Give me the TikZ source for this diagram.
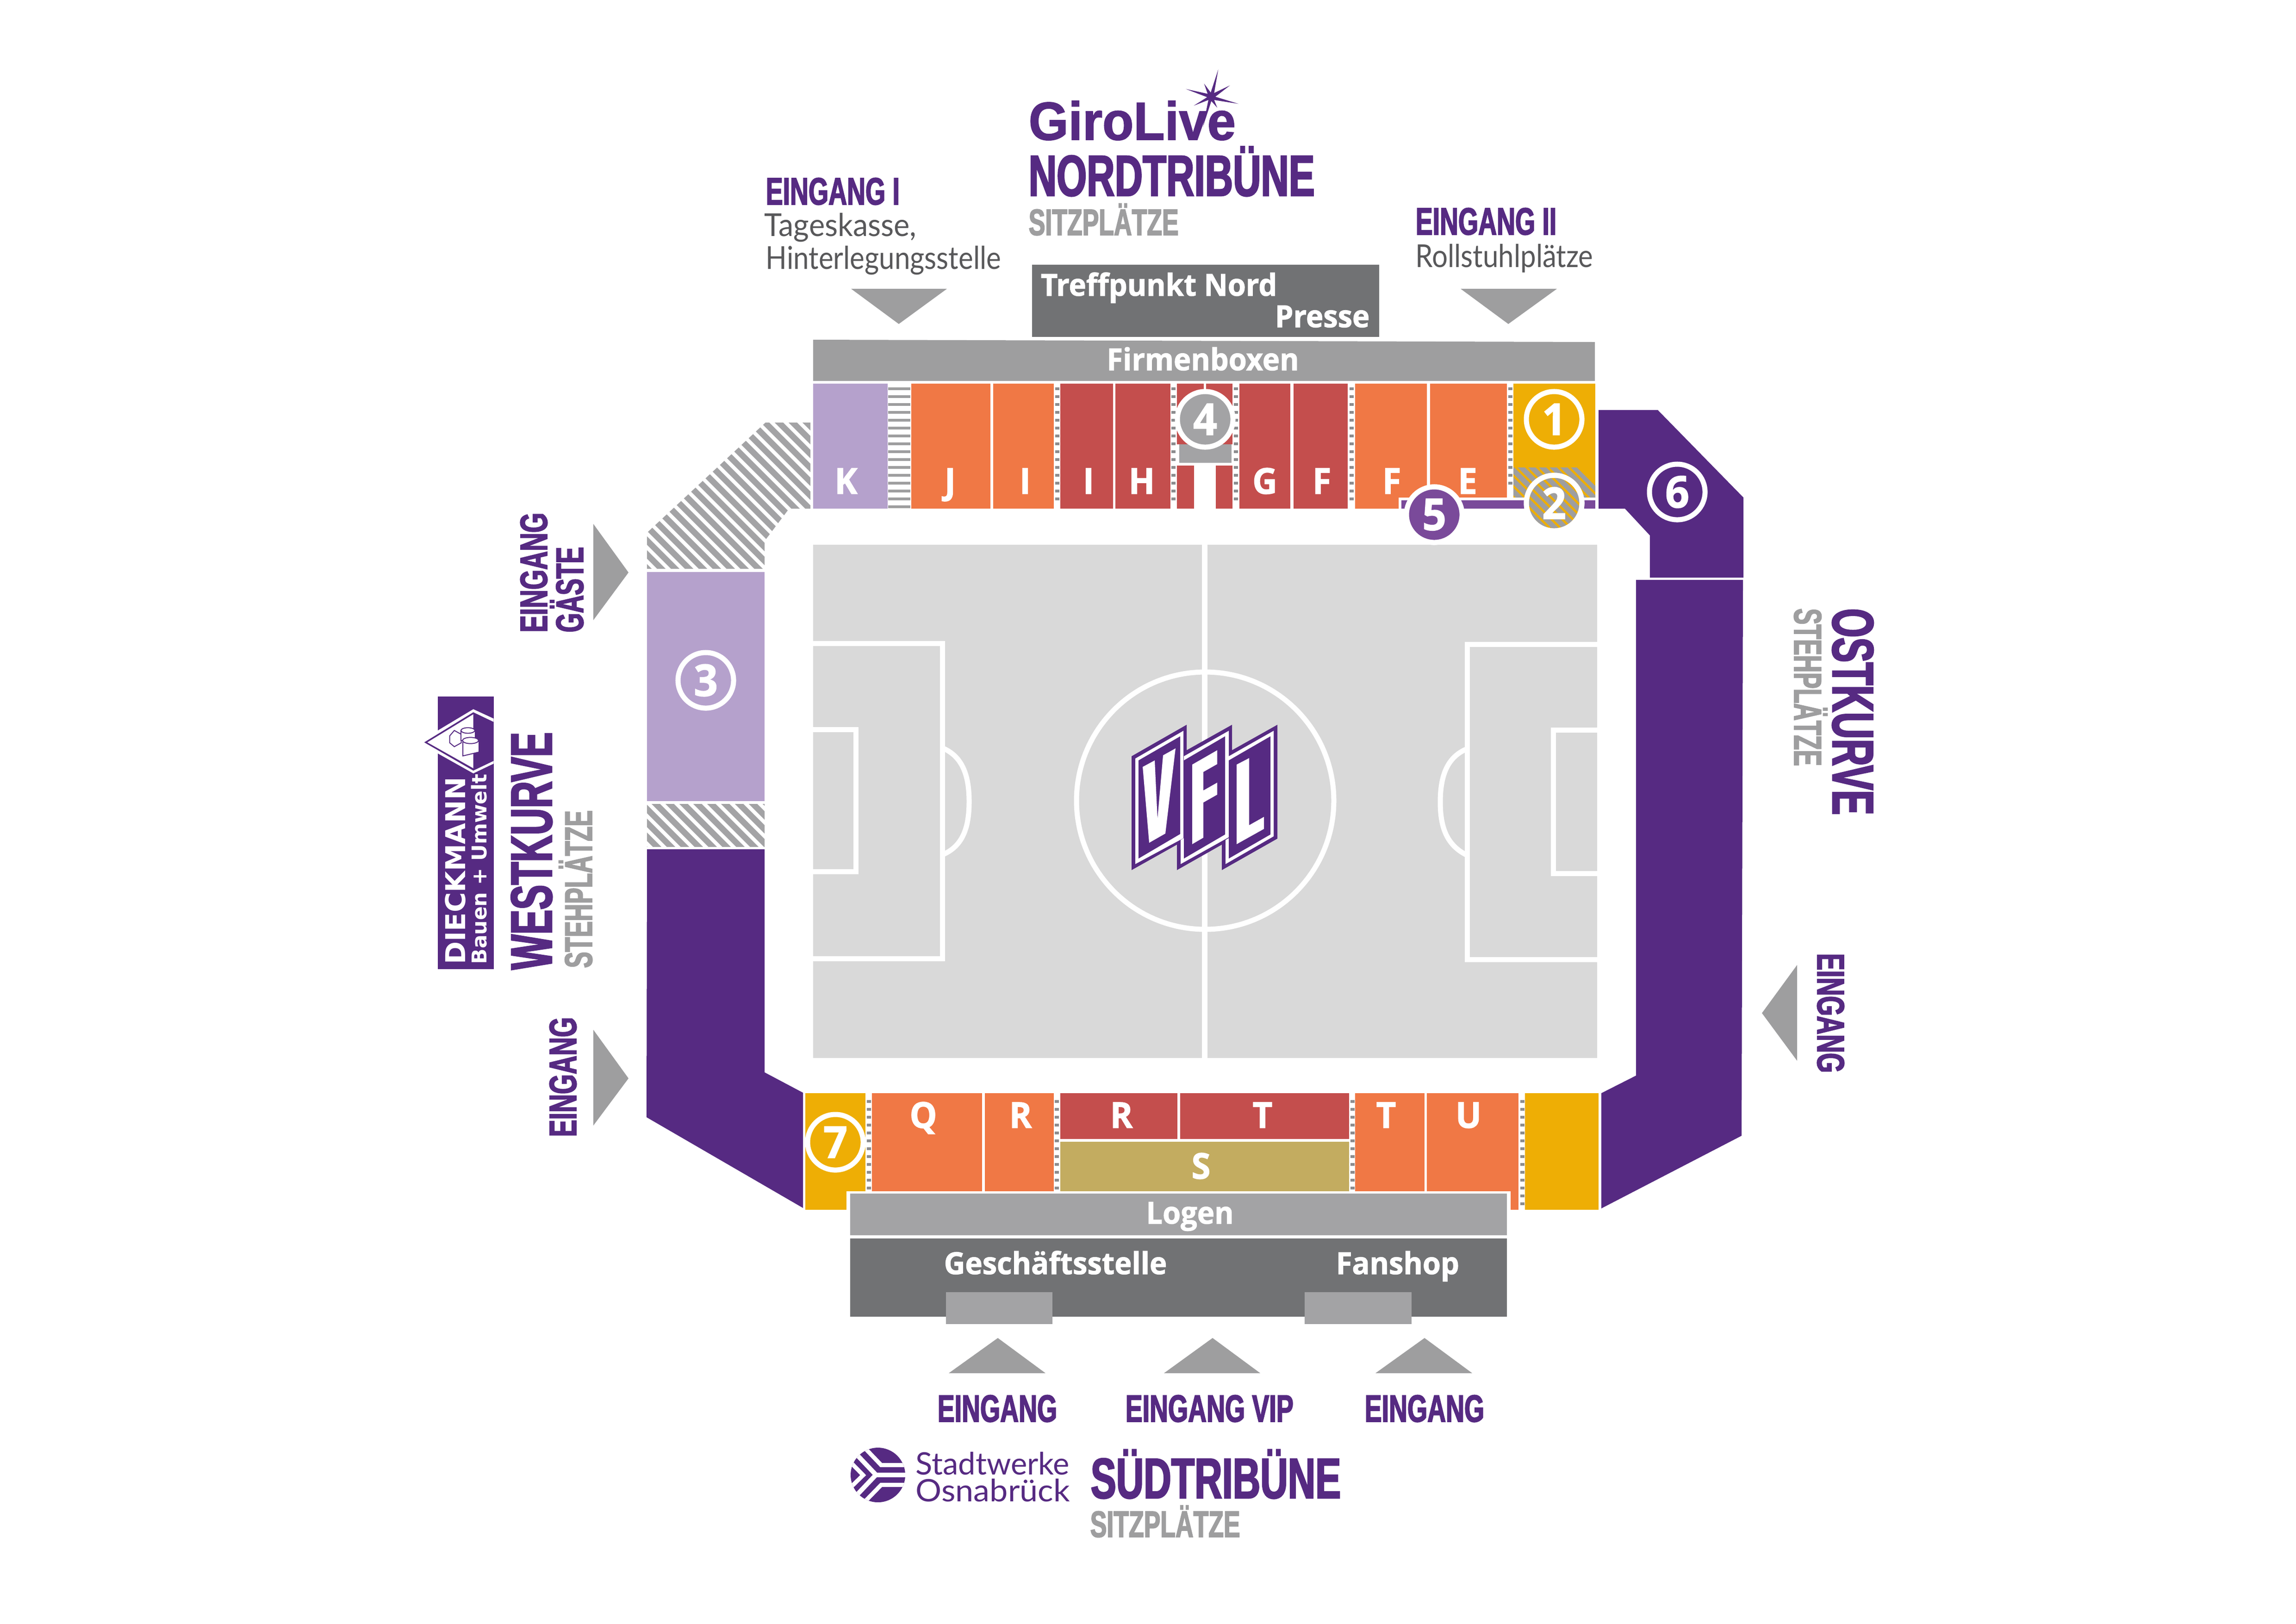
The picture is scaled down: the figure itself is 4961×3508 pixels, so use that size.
\documentclass[tikz,border=0pt]{standalone}
\usepackage{fontspec}
\newfontfamily\headfont[FakeStretch=0.67,BoldFeatures={FakeBold=2.2}]{Liberation Sans}
\newfontfamily\curvefont[FakeStretch=0.64,BoldFeatures={FakeBold=2.2}]{Liberation Sans}
\newfontfamily\curvesubfont[FakeStretch=0.62,BoldFeatures={FakeBold=2.2}]{Liberation Sans}
\newfontfamily\girofont[FakeStretch=0.95,BoldFeatures={FakeBold=1.5}]{Liberation Sans}
\newfontfamily\boxfont[FakeStretch=0.96,BoldFeatures={FakeBold=1.5}]{Open Sans}
\newfontfamily\thinfont[FakeStretch=0.88]{Lato}
\newfontfamily\thinwidefont[FakeStretch=0.95]{Lato}
\newfontfamily\logofont[FakeStretch=1.05]{Lato}
\newfontfamily\wideboldfont{DejaVu Sans}
\setmainfont{Lato}
\definecolor{purpledark}{HTML}{562A82}
\definecolor{purplemid}{HTML}{7A4A9A}
\definecolor{purplepale}{HTML}{B5A1CC}
\definecolor{seatorange}{HTML}{F07845}
\definecolor{seatred}{HTML}{C44E4D}
\definecolor{seatgold}{HTML}{EEAE05}
\definecolor{seatolive}{HTML}{C3AC60}
\definecolor{greyarrow}{HTML}{9E9E9F}
\definecolor{greylogen}{HTML}{A3A3A5}
\definecolor{greydark}{HTML}{717274}
\definecolor{greydot}{HTML}{8C8C8E}
\definecolor{greyfield}{HTML}{D9D9D9}
\definecolor{greytext}{HTML}{58585A}
\tikzset{
  headlab/.style={anchor=base west,inner sep=0,text=purpledark,font=\headfont\bfseries\fontsize{#1}{#1}\selectfont},
  sublab/.style={anchor=base west,inner sep=0,text=greyarrow,font=\headfont\bfseries\fontsize{#1}{#1}\selectfont},
  curvelab/.style={anchor=base west,inner sep=0,text=purpledark,rotate=#1,font=\curvefont\bfseries\fontsize{35.8}{35.8}\selectfont},
  curvesub/.style={anchor=base west,inner sep=0,text=greyarrow,rotate=#1,font=\curvesubfont\bfseries\fontsize{23.8}{23.8}\selectfont},
  thinlab/.style={anchor=base west,inner sep=0,text=greytext,font=\thinfont\fontsize{19.4}{19.4}\selectfont},
  boxlab/.style={anchor=base,inner sep=0,text=white,font=\boxfont\bfseries\fontsize{18.7}{18.7}\selectfont},
  seatlab/.style={anchor=base,inner sep=0,text=white,font=\boxfont\bfseries\fontsize{22}{22}\selectfont},
  numring/.style={circle,draw=white,line width=.11cm,minimum size=1.2cm,inner sep=0,text=white,font=\boxfont\bfseries\fontsize{27}{27}\selectfont},
  pitchline/.style={draw=white,line width=.11cm},
  hatchline/.style={draw=greylogen,line width=.13cm},
  goldhatch/.style={draw=greyarrow,line width=.11cm},
  dotmark/.style={fill=greydot}
}
\begin{document}
\begin{tikzpicture}[x=.01cm,y=-.01cm]
  \useasboundingbox (0,0) rectangle (4961,3508);
  \fill[white] (0,0) rectangle (4961,3508);

  % pitch
  \fill[greyfield] (1757,1177) rectangle (3451,2286);
  \draw[white,line width=.12cm] (2603,1177) -- (2603,2286);
  \draw[pitchline] (2604,1730) circle (278);
  \draw[pitchline] (1757,1390) -- (2036.5,1390) -- (2036.5,2071.5) -- (1757,2071.5);
  \draw[pitchline] (1757,1576.5) -- (1849.5,1576.5) -- (1849.5,1883.5) -- (1757,1883.5);
  \draw[pitchline] (2036,1616) .. controls (2082,1635) and (2094,1680) .. (2094,1732) .. controls (2094,1785) and (2082,1828) .. (2036,1847);
  \draw[pitchline] (3451,1392) -- (3170,1392) -- (3170,2073) -- (3451,2073);
  \draw[pitchline] (3451,1577) -- (3356.5,1577) -- (3356.5,1887.5) -- (3451,1887.5);
  \draw[pitchline] (3170,1618) .. controls (3125,1636) and (3112,1680) .. (3112,1733) .. controls (3112,1786) and (3125,1826) .. (3170,1848);

  % club logo
  \fill[purpledark] (2445,1634) -- (2564,1566) -- (2564,1621) -- (2662,1566) -- (2662,1621) -- (2760,1566)
    -- (2760,1812) -- (2640,1880) -- (2640,1825) -- (2543,1880) -- (2543,1825) -- (2445,1880) -- cycle;
  \fill[white] (2453,1639) -- (2557,1579) -- (2557,1811) -- (2453,1867) -- cycle;
  \fill[white] (2558,1634) -- (2655,1579) -- (2655,1809) -- (2551,1867) -- (2551,1815) -- (2558,1811) -- cycle;
  \fill[white] (2655,1634) -- (2752,1579) -- (2752,1807) -- (2648,1867) -- (2648,1815) -- (2655,1811) -- cycle;
  \fill[purpledark] (2460,1643) -- (2550,1591) -- (2550,1802) -- (2460,1855) -- cycle;
  \fill[purpledark] (2558,1643) -- (2647,1591) -- (2647,1803) -- (2558,1855) -- cycle;
  \fill[purpledark] (2655,1643) -- (2745,1591) -- (2745,1803) -- (2655,1855) -- cycle;
  \fill[white] (2469,1657) -- (2495,1643) -- (2501,1769) -- (2513,1632) -- (2540,1617) -- (2518,1801) -- (2483,1821) -- cycle;
  \fill[white] (2576,1652) -- (2630,1621) -- (2630,1651) -- (2600,1668) -- (2600,1708) -- (2630,1691) -- (2630,1717) -- (2600,1734) -- (2600,1810) -- (2576,1824) -- cycle;
  \fill[white] (2672,1652) -- (2699,1638) -- (2699,1783) -- (2731,1765) -- (2731,1791) -- (2672,1824) -- cycle;

  % north stand
  \fill[greyarrow] (1757,734) -- (3446,739) -- (3446,823) -- (1757,823) -- cycle;
  \fill[greydark] (2230,572) rectangle (2980,728);
  \fill[purplepale] (1757,829) rectangle (1918,1099);
  \foreach \y in {837,854,...,1096}
    \fill[greyarrow] (1919,\y) rectangle (1967,\y+6);
  \fill[seatorange] (1969,829) rectangle (2140,1099);
  \fill[seatorange] (2146,829) rectangle (2277,1099);
  \fill[seatred] (2291,829) rectangle (2405,1099);
  \fill[seatred] (2410,829) rectangle (2529,1099);
  \fill[seatred] (2543,829) rectangle (2601,960);
  \fill[seatred] (2606,829) rectangle (2663,960);
  \fill[seatred] (2543,1006) rectangle (2580,1099);
  \fill[seatred] (2627,1006) rectangle (2663,1099);
  \fill[greylogen] (2548,960) rectangle (2661,1000);
  \fill[seatred] (2678,829) rectangle (2788,1099);
  \fill[seatred] (2795,829) rectangle (2912,1099);
  \fill[seatorange] (2928,829) -- (3083,829) -- (3083,1075) -- (3022,1075) -- (3022,1099) -- (2928,1099) -- cycle;
  \fill[seatorange] (3090,829) rectangle (3256,1075);
  \fill[seatgold] (3270,829) rectangle (3447,1075);
  \foreach \x in {2284,2535,2670,2920}
    \foreach \y in {837,854,...,1090}
      \fill[dotmark] (\x-4.5,\y) rectangle (\x+4.5,\y+6);
  \foreach \y in {837,854,...,1050}
    \fill[dotmark] (3258.5,\y) rectangle (3267.5,\y+6);
  \begin{scope}
    \clip (3270,1010) -- (3407,1010) -- (3447,1050) -- (3447,1075) -- (3270,1075) -- cycle;
    \foreach \s in {3070,3093,...,3450}
      \draw[goldhatch] (\s,1000) -- ++(100,100);
  \end{scope}
  \fill[purplemid] (3028,1081) rectangle (3447,1099);
  \fill[white] (3099,1112) circle (65.5);
  \fill[white] (3358,1087) circle (65.5);
  \begin{scope}
    \clip (3358,1087) circle (54.5);
    \fill[seatgold] (3290,1020) rectangle (3430,1150);
    \foreach \s in {3170,3193,...,3450}
      \draw[goldhatch] (\s,1020) -- ++(130,130);
  \end{scope}

  \node[boxlab] (firmen) at (2599,800) {Firmenboxen};
  \node[boxlab,anchor=base west] (treff) at (2248,639) {Treffpunkt Nord};
  \node[boxlab,anchor=base east] (presse) at (2960,707) {Presse};
  \node[seatlab] (seatK) at (1828,1067) {K};
  \node[seatlab] (seatJ) at (2053,1067) {J};
  \node[seatlab] (seatIa) at (2215,1067) {I};
  \node[seatlab] (seatIb) at (2352,1067) {I};
  \node[seatlab] (seatH) at (2467,1067) {H};
  \node[seatlab] (seatG) at (2733,1067) {G};
  \node[seatlab] (seatFa) at (2856,1067) {F};
  \node[seatlab] (seatFb) at (3007,1067) {F};
  \node[seatlab] (seatE) at (3171,1067) {E};
  \node[numring] (num1) at (3358,906) {1};
  \node[numring] (num2) at (3358,1087) {2};
  \node[numring,fill=greylogen] (num4) at (2604,906) {4};
  \node[numring,fill=purplemid] (num5) at (3099,1112) {5};

  % north labels
  \node[headlab=23.5] (ein1) at (1654,442) {EINGANG I};
  \node[thinlab,font=\thinwidefont\fontsize{19.4}{19.4}\selectfont] (tages) at (1651,510) {Tageskasse,};
  \node[thinlab] (hinter) at (1654,581) {Hinterlegungsstelle};
  \fill[greyarrow] (1839,624) -- (2046,624) -- (1942,700) -- cycle;
  \node[headlab=23.5] (ein2) at (3058,507) {EINGANG II};
  \node[thinlab] (roll) at (3058,577) {Rollstuhlplätze};
  \fill[greyarrow] (3156,624) -- (3364,624) -- (3259,700) -- cycle;
  \node[headlab=33,font=\girofont\bfseries\fontsize{33}{33}\selectfont] (giro) at (2222,302) {GiroLive};
  \node[headlab=35.5] (nord) at (2222,423) {NORDTRIBÜNE};
  \node[sublab=22.7] (nordsub) at (2222,508) {SITZPLÄTZE};
  \begin{scope}[shift={(2540,140)},scale=.3333]
    \fill[purpledark] (277,30) -- (250,183) -- (352,134) -- (258,207) -- (408,253) -- (250,228) -- (270,278)
      -- (232,235) -- (177,403) -- (213,228) -- (118,265) -- (205,210) -- (67,157) -- (208,188) -- (185,122) -- (228,180) -- cycle;
  \end{scope}

  % west stand
  \begin{scope}
    \clip (1398,1151) -- (1654,913) -- (1751,913) -- (1751,1099) -- (1705,1099) -- (1652,1169) -- (1652,1229) -- (1398,1229) -- cycle;
    \foreach \s in {1040,1070,...,1760}
      \draw[hatchline] (\s,900) -- ++(800,800);
  \end{scope}
  \fill[purplepale] (1398,1236) rectangle (1652,1731);
  \begin{scope}
    \clip (1398,1737) rectangle (1652,1829);
    \foreach \s in {1290,1320,...,1650}
      \draw[hatchline] (\s,1730) -- ++(200,200);
  \end{scope}
  \fill[purpledark] (1398,1835) -- (1652,1835) -- (1652,2317) -- (1735,2361) -- (1735,2610) -- (1397,2414) -- cycle;
  \node[numring] (num3) at (1525,1470) {3};
  \fill[greyarrow] (1282,1132) -- (1358,1237) -- (1282,1340) -- cycle;
  \fill[greyarrow] (1282,2225) -- (1358,2330) -- (1282,2432) -- cycle;
  \node[headlab=23.5,rotate=90] (eingast) at (1182,1367) {EINGANG};
  \node[curvelab=90,font=\curvefont\bfseries\fontsize{23.8}{23.8}\selectfont] (gaeste) at (1260,1367) {GÄSTE};
  \node[headlab=23.5,rotate=90] (einwest) at (1245,2457) {EINGANG};
  \node[curvelab=90] (west) at (1192,2096) {WESTKURVE};
  \node[curvesub=90] (westsub) at (1279,2092) {STEHPLÄTZE};
  \fill[purpledark] (946,1505) rectangle (1067,2094);
  \begin{scope}[shift={(900,1490)},scale=.3333]
    \fill[white] (10,342) -- (368,127) -- (500,188) -- (500,480) -- (368,543) -- cycle;
    \fill[purpledark] (50,342) -- (368,147) -- (500,210) -- (500,462) -- (368,525) -- cycle;
    \fill[white] (70,342) -- (368,160) -- (368,510) -- cycle;
    \filldraw[fill=white,draw=purpledark,line width=.02cm] (215,300) -- (245,265) -- (290,290) -- (290,345) -- (245,370) -- (215,345) -- cycle;
    \filldraw[fill=white,draw=purpledark,line width=.02cm] (288,265) -- (288,330) -- (380,330) -- (380,265) -- cycle;
    \filldraw[fill=white,draw=purpledark,line width=.02cm] (333,265) ellipse (45 and 18);
    \filldraw[fill=white,draw=purpledark,line width=.02cm] (300,335) -- (300,430) -- (405,405) -- (405,335) -- cycle;
    \filldraw[fill=white,draw=purpledark,line width=.02cm] (350,330) ellipse (52 and 20);
  \end{scope}
  \node[anchor=base west,inner sep=0,rotate=90,text=white,font=\wideboldfont\bfseries\fontsize{16.8}{16.8}\selectfont] (dieck) at (1005,2084) {DIECKMANN};
  \node[anchor=base west,inner sep=0,rotate=90,text=white,font=\wideboldfont\bfseries\fontsize{12.5}{12.5}\selectfont] (bauen) at (1051,2084) {Bauen + Umwelt};

  % east stand
  \fill[purpledark] (3454,886) -- (3582,886) -- (3767,1075) -- (3767,1248) -- (3565,1248) -- (3565,1157) -- (3511,1099) -- (3454,1099) -- cycle;
  \fill[purpledark] (3535,1253) -- (3766,1253) -- (3763,2454) -- (3460,2611) -- (3460,2362) -- (3535,2324) -- cycle;
  \node[numring] (num6) at (3624,1063) {6};
  \fill[greyarrow] (3883,2085) -- (3807,2189) -- (3883,2292) -- cycle;
  \node[curvelab=-90] (ost) at (3960,1314) {OSTKURVE};
  \node[curvesub=-90] (ostsub) at (3877,1314) {STEHPLÄTZE};
  \node[headlab=23.5,rotate=-90] (einost) at (3927,2059) {EINGANG};

  % south stand
  \fill[seatgold] (1740,2362) rectangle (1870,2614);
  \fill[seatorange] (1884,2362) rectangle (2122,2574);
  \fill[seatorange] (2128,2362) rectangle (2277,2574);
  \fill[seatred] (2291,2362) rectangle (2544,2461);
  \fill[seatred] (2550,2362) rectangle (2915,2461);
  \fill[seatolive] (2291,2467) rectangle (2915,2574);
  \fill[seatorange] (2928,2362) rectangle (3078,2574);
  \fill[seatorange] (3083,2362) rectangle (3281,2614);
  \fill[seatgold] (3295,2362) rectangle (3454,2614);
  \foreach \x in {1877,2283,2922}
    \foreach \y in {2377,2394,...,2565}
      \fill[dotmark] (\x-4.5,\y) rectangle (\x+4.5,\y+6);
  \foreach \y in {2377,2394,...,2600}
    \fill[dotmark] (3284.5,\y) rectangle (3293.5,\y+6);
  \fill[white] (1829,2574) rectangle (3264,2676);
  \fill[greylogen] (1837,2579) rectangle (3256,2669);
  \fill[greydark] (1837,2676) rectangle (3256,2845);
  \fill[greylogen] (2044,2792) rectangle (2274,2861);
  \fill[greylogen] (2819,2792) rectangle (3050,2861);
  \node[seatlab] (seatQ) at (1995,2437) {Q};
  \node[seatlab] (seatRa) at (2205,2437) {R};
  \node[seatlab] (seatRb) at (2423,2437) {R};
  \node[seatlab] (seatTa) at (2728,2437) {T};
  \node[seatlab] (seatS) at (2595,2547) {S};
  \node[seatlab] (seatTb) at (2995,2437) {T};
  \node[seatlab] (seatU) at (3173,2437) {U};
  \node[numring] (num7) at (1805,2468) {7};
  \node[boxlab] (logen) at (2571,2644) {Logen};
  \node[boxlab,anchor=base west] (gesch) at (2039,2753) {Geschäftsstelle};
  \node[boxlab,anchor=base west] (fan) at (2886,2753) {Fanshop};

  % south labels
  \fill[greyarrow] (2156,2891) -- (2259,2967) -- (2050,2967) -- cycle;
  \fill[greyarrow] (2620,2891) -- (2723,2967) -- (2515,2967) -- cycle;
  \fill[greyarrow] (3078,2891) -- (3181,2967) -- (2972,2967) -- cycle;
  \node[headlab=23.5] (einsa) at (2025,3072) {EINGANG};
  \node[headlab=23.5] (einvip) at (2431,3072) {EINGANG VIP};
  \node[headlab=23.5] (einsb) at (2948,3072) {EINGANG};
  \node[headlab=35] (sued) at (2356,3237) {SÜDTRIBÜNE};
  \node[sublab=22.7] (suedsub) at (2355,3321) {SITZPLÄTZE};
  \begin{scope}
    \clip (1897,3187) circle (59);
    \fill[purpledark] (1838,3128) rectangle (1956,3246);
    \begin{scope}[shift={(1820,3110)},scale=.3333]
      \draw[white,line width=.09cm] (140,50) -- (252,167) -- (420,167);
      \draw[white,line width=.09cm] (140,410) -- (252,295) -- (420,295);
      \draw[white,line width=.1cm] (85,90) -- (218,230) -- (85,370);
      \draw[white,line width=.1cm] (218,230) -- (420,230);
      \draw[white,line width=.09cm] (55,150) -- (135,232) -- (55,310);
    \end{scope}
  \end{scope}
  \node[anchor=base west,inner sep=0,text=purpledark,font=\rmfamily\fontsize{19}{19}\selectfont] (stadt) at (1978,3186) {Stadtwerke};
  \node[anchor=base west,inner sep=0,text=purpledark,font=\logofont\fontsize{19}{19}\selectfont] (osna) at (1978,3244) {Osnabrück};
\end{tikzpicture}
\end{document}
